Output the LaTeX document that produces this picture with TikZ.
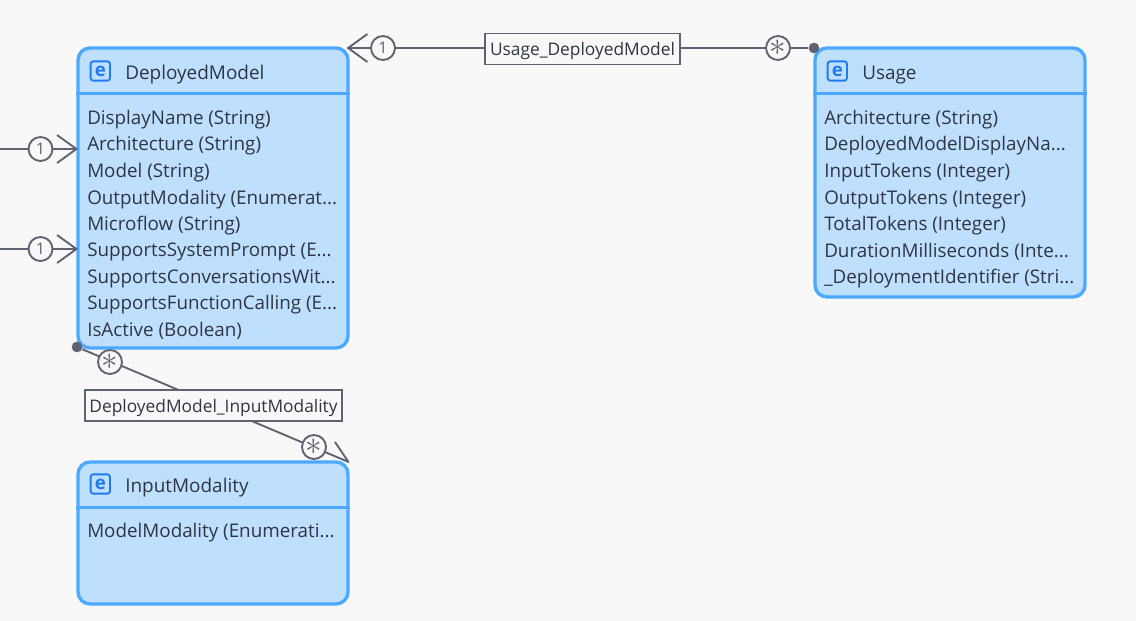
\documentclass[tikz,border=0pt]{standalone}
\usepackage{fontspec}
\setmainfont{Open Sans}
\usetikzlibrary{arrows.meta}
\definecolor{bgcol}{HTML}{F8F8F8}
\definecolor{boxfill}{HTML}{BFDFFF}
\definecolor{boxline}{HTML}{4DA9FF}
\definecolor{linecol}{HTML}{5F6270}
\definecolor{textcol}{HTML}{2F3542}
\definecolor{iconcol}{HTML}{1F7BEF}
\newcommand{\more}{...}
\newcommand{\many}{{\fontsize{25}{25}\selectfont$\ast$}}
\tikzset{
  entity/.style={draw=boxline,fill=boxfill,line width=2.5pt,rounded corners=9pt,minimum width=202.5pt,inner sep=0pt},
  title/.style={anchor=west,text=textcol,font=\fontsize{14.2}{16}\selectfont,inner sep=0pt},
  attr/.style={anchor=west,text=textcol,font=\fontsize{14.1}{16}\selectfont,inner sep=0pt},
  icon/.style={draw=iconcol,fill=boxfill,line width=1.4pt,rounded corners=2pt,minimum size=14.5pt,inner sep=0pt,text=iconcol,font=\fontsize{14}{14}\selectfont\bfseries},
  mult/.style={circle,draw=linecol,fill=bgcol,line width=1.4pt,minimum size=18pt,inner sep=0pt,text=linecol},
  one/.style={mult,font=\fontsize{12}{12}\selectfont},
  assoc/.style={draw=linecol,fill=bgcol,line width=1.1pt,minimum height=23.5pt,inner sep=0pt,text=textcol,text height=11pt,text depth=1.2pt,font=\fontsize{13}{15}\selectfont},
  conn/.style={draw=linecol,line width=1.4pt,line join=round},
  barb/.style={-{Straight Barb[length=14.5pt,width=21pt,line width=1.4pt]}},
  dot/.style={circle,fill=linecol,minimum size=8pt,inner sep=0pt}
}
\begin{document}
\begin{tikzpicture}[x=0.75pt,y=-0.75pt]
  \useasboundingbox[fill=bgcol] (0,0) rectangle (1136,621);
  % entities
  \node[entity,minimum height=225pt] (deployed) at (213,198) {};
  \node[entity,minimum height=106.5pt] (input) at (213,533) {};
  \node[entity,minimum height=186.75pt] (usage) at (950,172.5) {};
  \draw[boxline,line width=2.25pt] (deployed.west |- 0,93.5) -- (deployed.east |- 0,93.5);
  \draw[boxline,line width=2.25pt] (input.west |- 0,507) -- (input.east |- 0,507);
  \draw[boxline,line width=2.25pt] (usage.west |- 0,93.5) -- (usage.east |- 0,93.5);
  \node[icon] (icondeployed) at (100.3,71) {e};
  \node[icon] (iconinput) at (100.3,484) {e};
  \node[icon] (iconusage) at (837.3,71) {e};
  \node[title] (titledeployed) at (125,75) {DeployedModel};
  \node[title] (titleinput) at (125,488) {InputModality};
  \node[title] (titleusage) at (862,75) {Usage};
  % attributes
  \foreach \y/\t in {120/DisplayName (String),146/Architecture (String),173/Model (String),199.5/OutputModality (Enumerat\more,226/Microflow (String),252/SupportsSystemPrompt (E\more,278.5/SupportsConversationsWit\more,305/SupportsFunctionCalling (E\more,331/IsActive (Boolean)}
    \node[attr] at (87,\y) {\t};
  \node[attr] (attrinput) at (87,533) {ModelModality (Enumerati...};
  \foreach \y/\t in {120/Architecture (String),146/DeployedModelDisplayNa\more,173/InputTokens (Integer),199.5/OutputTokens (Integer),226/TotalTokens (Integer),252/DurationMilliseconds (Inte\more,278.5/\_DeploymentIdentifier (Stri\more}
    \node[attr] at (824,\y) {\t};
  % connector ends
  \coordinate (tipusage) at (346.5,48);
  \coordinate (tipone) at (78,149);
  \coordinate (tiptwo) at (78,249);
  \coordinate (freeone) at (0,149);
  \coordinate (freetwo) at (0,249);
  \coordinate (tipinput) at (348.5,462);
  \coordinate (arminput) at (335,442);
  \node[dot] (dotusage) at (814,48) {};
  \node[dot] (dotdeployed) at (77,347) {};
  % connectors
  \draw[conn,barb] (dotusage) -- (tipusage);
  \draw[conn,barb] (freeone) -- (tipone);
  \draw[conn,barb] (freetwo) -- (tiptwo);
  \draw[conn] (dotdeployed) -- (tipinput) -- (arminput);
  % labels
  \node[assoc,minimum width=146pt] (labelusage) at (582.5,49) {Usage\_DeployedModel\hspace{1.5pt}};
  \node[assoc,minimum width=192.5pt] (labelinput) at (213.5,405.5) {DeployedModel\_InputModality\hspace{2.2pt}};
  \node[one] (multa) at (383,48) {1};
  \node[mult] (multb) at (778,48) {\many};
  \node[one] (multc) at (40.5,149) {1};
  \node[one] (multd) at (40.5,249) {1};
  \node[mult] (multe) at (110,362) {\many};
  \node[mult] (multf) at (314,447) {\many};
\end{tikzpicture}
\end{document}
